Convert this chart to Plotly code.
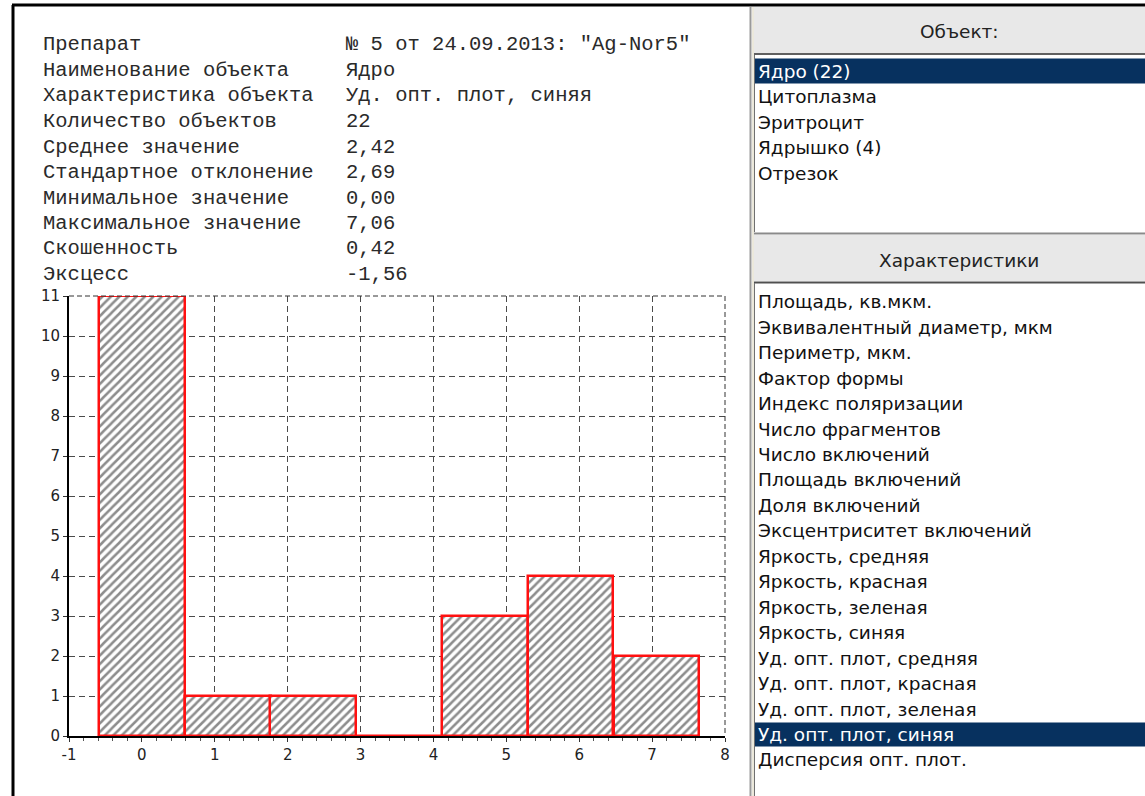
import plotly.graph_objects as go

# ---------------- data ----------------
bin_centers = [0.00, 1.18, 2.35, 3.53, 4.71, 5.88, 7.06]
counts = [11, 1, 1, 0, 3, 4, 2]
bin_width = 1.177

stat_labels = ["Препарат", "Наименование объекта", "Характеристика объекта",
               "Количество объектов", "Среднее значение", "Стандартное отклонение",
               "Минимальное значение", "Максимальное значение", "Скошенность", "Эксцесс"]
stat_values = ['№ 5 от 24.09.2013: "Ag-Nor5"', "Ядро", "Уд. опт. плот, синяя",
               "22", "2,42", "2,69", "0,00", "7,06", "0,42", "-1,56"]

object_header = "Объект:"
object_items = ["Ядро (22)", "Цитоплазма", "Эритроцит", "Ядрышко (4)", "Отрезок"]
object_selected = 0

char_header = "Характеристики"
char_items = ["Площадь, кв.мкм.", "Эквивалентный диаметр, мкм", "Периметр, мкм.",
              "Фактор формы", "Индекс поляризации", "Число фрагментов", "Число включений",
              "Площадь включений", "Доля включений", "Эксцентриситет включений",
              "Яркость, средняя", "Яркость, красная", "Яркость, зеленая", "Яркость, синяя",
              "Уд. опт. плот, средняя", "Уд. опт. плот, красная", "Уд. опт. плот, зеленая",
              "Уд. опт. плот, синяя", "Дисперсия опт. плот."]
char_selected = 17

x_ticks = list(range(-1, 9))
y_ticks = list(range(0, 12))

# ---------------- layout geometry (pixels) ----------------
FW, FH = 1145, 796
PL, PR, PT, PB = 69, 725, 296, 736
PW, PH = PR - PL, PB - PT


def X(px):
    return (px - PL) / PW


def Y(py):
    return (PB - py) / PH


fig = go.Figure()
fig.add_trace(go.Bar(
    x=bin_centers, y=counts, width=bin_width,
    marker=dict(color="white",
                line=dict(color="#ff1010", width=2.5),
                pattern=dict(shape="/", fgcolor="#1c1c1c", bgcolor="white",
                             size=6, solidity=0.42)),
    showlegend=False, hoverinfo="skip",
))

shapes = []
annotations = []


def rect(x0, y0, x1, y1, fill, line_color=None, lw=0):
    shapes.append(dict(type="rect", xref="paper", yref="paper",
                       x0=X(x0), x1=X(x1), y0=Y(y1), y1=Y(y0),
                       fillcolor=fill, line=dict(width=lw, color=line_color or fill),
                       layer="above"))


def line(x0, y0, x1, y1, color, w, dash=None):
    d = dict(type="line", xref="paper", yref="paper",
             x0=X(x0), x1=X(x1), y0=Y(y0), y1=Y(y1),
             line=dict(color=color, width=w), layer="above")
    if dash:
        d["line"]["dash"] = dash
    shapes.append(d)


def text(px, py, s, size, color, family, anchor="left"):
    annotations.append(dict(xref="paper", yref="paper", x=X(px), y=Y(py),
                            text=s, showarrow=False, xanchor=anchor, yanchor="middle",
                            font=dict(size=size, color=color, family=family)))


MONO = "Liberation Mono, Courier New, monospace"
SANS = "DejaVu Sans, Verdana, sans-serif"

# statistics text block
for i, (lab, val) in enumerate(zip(stat_labels, stat_values)):
    yy = 45 + i * 25.5
    text(41, yy, lab, 20.5, "#2a2a2a", MONO)
    text(344, yy, val, 20.5, "#2a2a2a", MONO)

# window frame
line(12, 5, FW, 5, "#000000", 3)
line(13, 5, 13, FH, "#000000", 3)

# right panel
rect(754, 7, FW, 53, "#e8e8e8")
line(754, 54, FW, 54, "#606060", 2)
rect(754, 56, FW, 232, "#ffffff")
line(750.5, 7, 750.5, FH, "#9a9a9a", 2)
line(753, 7, 753, FH, "#d8d2b8", 1)
line(754.5, 55, 754.5, 232, "#707070", 1)
LS = 18.5
text(959, 31, object_header, LS, "#222222", SANS, "center")
for i, s in enumerate(object_items):
    yy = 71.5 + i * 25.5
    if i == object_selected:
        rect(755, yy - 13, FW, yy + 12, "#07315f")
        text(756, yy, s, LS, "#ffffff", SANS)
    else:
        text(756, yy, s, LS, "#111111", SANS)

line(754, 233.5, FW, 233.5, "#8a8a8a", 2)
rect(754, 235, FW, 281, "#e8e8e8")
text(959, 260, char_header, LS, "#222222", SANS, "center")
line(754, 282.5, FW, 282.5, "#505050", 2)
line(754.5, 283, 754.5, FH, "#707070", 1)
for i, s in enumerate(char_items):
    yy = 301.7 + i * 25.46
    if i == char_selected:
        rect(755, yy - 12, FW, yy + 12, "#07315f")
        text(756, yy, s, LS, "#ffffff", SANS)
    else:
        text(756, yy, s, LS, "#111111", SANS)

# dashed plot edges (top and right)
line(PL, PT, PR, PT, "#333333", 1, "5px,3px")
line(PR, PT, PR, PB, "#333333", 1, "5px,3px")

fig.update_layout(
    width=FW, height=FH,
    margin=dict(l=PL, r=FW - PR, t=PT, b=FH - PB),
    paper_bgcolor="white", plot_bgcolor="white",
    bargap=0,
    shapes=shapes, annotations=annotations,
    xaxis=dict(range=[-1, 8], tickvals=x_ticks, ticktext=[str(v) for v in x_ticks],
               showgrid=True, gridcolor="#4a4a4a", griddash="6px,4px", gridwidth=1,
               zeroline=False, showline=True, linecolor="#000000", linewidth=2,
               ticks="outside", ticklen=4, tickcolor="#333333",
               minor=dict(ticks="outside", ticklen=3, dtick=0.2, tickcolor="#555555", showgrid=False),
               tickfont=dict(size=15, color="#222222", family=SANS), fixedrange=True),
    yaxis=dict(range=[0, 11], tickvals=y_ticks, ticktext=[str(v) for v in y_ticks],
               showgrid=True, gridcolor="#4a4a4a", griddash="6px,4px", gridwidth=1,
               zeroline=False, showline=True, linecolor="#000000", linewidth=2,
               ticks="outside", ticklen=4, tickcolor="#333333",
               tickfont=dict(size=15, color="#222222", family=SANS), fixedrange=True),
)

fig.write_html("out.html", config={"displayModeBar": False},
               post_script="document.body.style.margin='0';")
